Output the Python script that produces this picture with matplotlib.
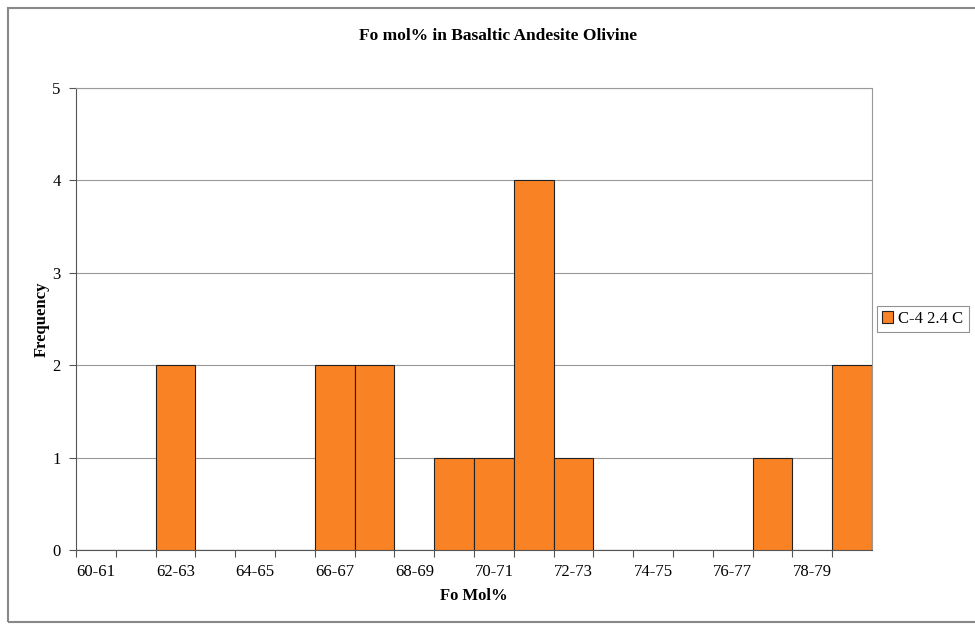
import matplotlib
matplotlib.use("Agg")
import matplotlib.pyplot as plt
from matplotlib.patches import Rectangle
import numpy as np

plt.rcParams['font.family'] = ['Liberation Serif', 'DejaVu Serif']

bins = [f"{a}-{a + 1}" for a in range(60, 80)]
counts = [0, 0, 2, 0, 0, 0, 2, 2, 0, 1, 1, 4, 1, 0, 0, 0, 0, 1, 0, 2]
series = "C-4 2.4 C"

fig = plt.figure(figsize=(9.75, 6.25), dpi=100)
# outer chart border
fig.patches.append(Rectangle((8 / 975, 3 / 625), 1.2, 614 / 625, transform=fig.transFigure,
                             fill=False, edgecolor='#888888', lw=1.5))

ax = fig.add_axes([76 / 975, 75 / 625, 796 / 975, 462 / 625])
x = np.arange(len(bins))
ax.bar(x, counts, width=1.0, color='#F98224', edgecolor='#222222', lw=0.8, label=series, zorder=3)

ax.set_xlim(-0.5, len(bins) - 0.5)
ax.set_ylim(0, 5)
ax.set_yticks(range(6))
ax.yaxis.grid(True, color='#999999', lw=0.8, zorder=0)
ax.set_xticks(x - 0.5, minor=False)
ax.set_xticklabels([])
ax.set_xticks(x[::2], minor=True)
ax.set_xticklabels(bins[::2], minor=True)
ax.tick_params(axis='x', which='major', length=5, color='#555555')
ax.tick_params(axis='x', which='minor', length=0, labelsize=12, pad=10)
ax.tick_params(axis='y', length=5, color='#555555', labelsize=12, pad=6)

for s in ['top', 'right']:
    ax.spines[s].set_color('#999999')
for s in ['left', 'bottom']:
    ax.spines[s].set_color('#555555')

fig.text(498 / 975, 1 - 36 / 625, "Fo mol% in Basaltic Andesite Olivine", fontsize=12.5,
         fontweight='bold', ha='center', va='center')
ax.set_xlabel("Fo Mol%", fontsize=12, fontweight='bold', labelpad=6)
ax.set_ylabel("Frequency", fontsize=12, fontweight='bold', labelpad=2)

leg = ax.legend(loc='center left', bbox_to_anchor=(1.006, 0.5), fontsize=12, frameon=True,
                fancybox=False, edgecolor='#777777', handlelength=0.7, handleheight=0.7,
                handletextpad=0.3, borderpad=0.3, borderaxespad=0)
leg.get_frame().set_linewidth(0.8)

fig.savefig("out.png", dpi=100)
